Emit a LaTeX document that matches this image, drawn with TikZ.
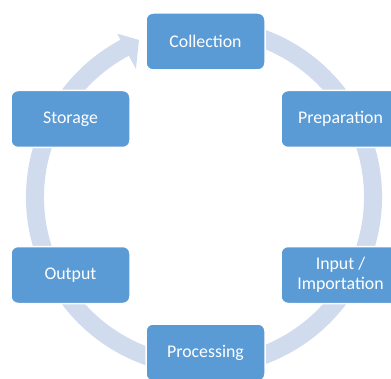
\documentclass[tikz,border=0pt]{standalone}
\usepackage{fontspec}
\setmainfont{Carlito}
\definecolor{boxblue}{RGB}{91,155,213}
\definecolor{ringc}{RGB}{208,219,238}
\tikzset{
  stagebox/.style={rectangle, rounded corners=7pt, fill=boxblue, draw=white, line width=1.5pt,
    minimum width=119pt, minimum height=57pt, text=white, align=center,
    font=\fontsize{17.8}{20}\selectfont, inner sep=2pt},
}
\begin{document}
\begin{tikzpicture}[x=1pt,y=1pt]
\useasboundingbox (0,0) rectangle (391,378);
% ring arrow
\fill[ringc, shift={(204,181)}]
  (75:178) arc[start angle=75, end angle=-242, radius=178]
  -- (118:185) -- (112.5:170) -- (118:145) -- (118:160)
  arc[start angle=-242, end angle=75, radius=160] -- cycle;
% stages
\node[stagebox] (collection) at (205.5,336.5) {Collection};
\node[stagebox] (preparation) at (340.5,259) {Preparation};
\node[stagebox] (input) at (340.5,103) {Input /\\Importation};
\node[stagebox] (processing) at (205.5,25.5) {Processing};
\node[stagebox] (output) at (70.5,103) {Output};
\node[stagebox] (storage) at (70.5,259) {Storage};
\end{tikzpicture}
\end{document}
